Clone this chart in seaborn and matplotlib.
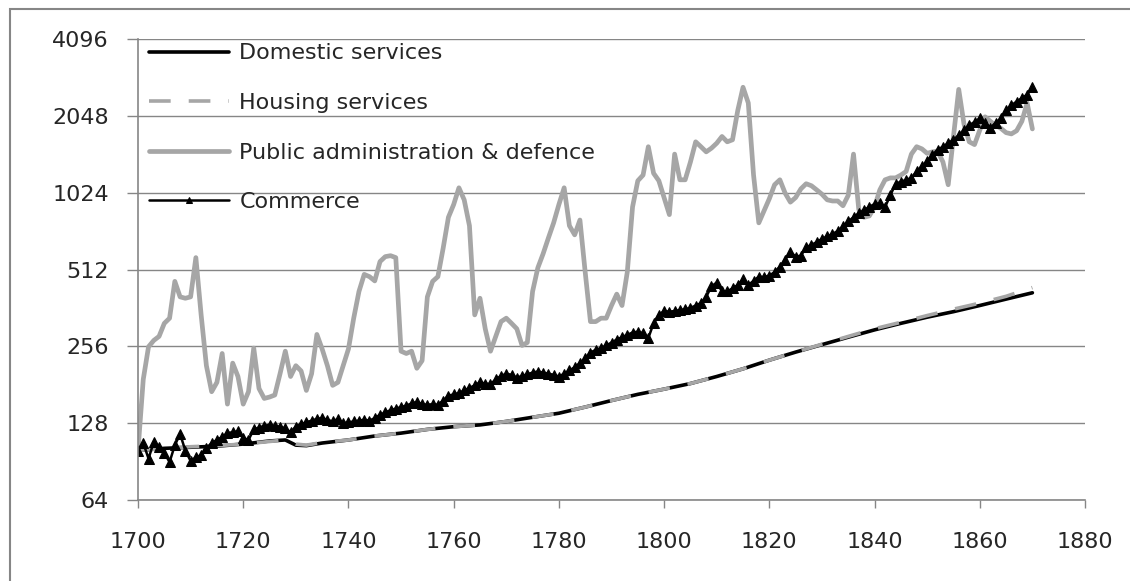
import numpy as np
import pandas as pd
import matplotlib
matplotlib.use('Agg')
import matplotlib.pyplot as plt
import seaborn as sns
from matplotlib.patches import Rectangle

# annual series 1700-1870
years = np.arange(1700, 1871)

# smooth series read at coarser steps
smooth_years = [1700, 1705, 1710, 1715, 1720, 1725, 1728, 1730, 1732, 1735,
                1740, 1745, 1750, 1755, 1760, 1765, 1770, 1775, 1780, 1785,
                1790, 1795, 1800, 1805, 1810, 1815, 1820, 1825, 1830, 1835,
                1840, 1845, 1850, 1855, 1860, 1865, 1870]
domestic = [100, 102, 103, 104, 106, 109, 110, 105, 104.5, 107,
            110, 114, 117, 121, 124, 126, 130, 135, 140, 148,
            157, 166, 174, 183, 195, 209, 226, 243, 260, 278,
            297, 315, 333, 350, 370, 392, 415]
housing = [100, 102, 103.5, 104.5, 106, 108.5, 110, 106, 105, 107.5,
           110, 114, 117, 121, 124, 126, 130, 135, 140, 148,
           157, 166, 174, 183, 195, 209, 226, 243, 261, 280,
           300, 318, 338, 358, 378, 402, 435]

pub_admin = [100, 190, 255, 270, 280, 315, 330, 460, 400, 395,
             400, 570, 340, 215, 170, 185, 240, 152, 220, 195,
             152, 170, 252, 175, 160, 162, 165, 200, 245, 195,
             215, 205, 172, 200, 285, 250, 215, 180, 185, 215,
             250, 330, 420, 490, 480, 462, 550, 575, 580, 570,
             245, 240, 245, 210, 225, 400, 460, 480, 620, 820,
             920, 1070, 960, 760, 340, 395, 300, 245, 280, 320,
             330, 315, 300, 258, 265, 420, 520, 590, 680, 780,
             920, 1070, 760, 700, 800, 500, 320, 320, 330, 330,
             370, 410, 370, 500, 900, 1140, 1200, 1550, 1220, 1140,
             980, 840, 1450, 1150, 1150, 1350, 1620, 1550, 1480, 1530,
             1600, 1700, 1620, 1650, 2150, 2650, 2300, 1200, 780, 870,
             970, 1100, 1150, 1020, 940, 980, 1060, 1110, 1090, 1050,
             1010, 960, 950, 950, 910, 1000, 1450, 880, 820, 830,
             900, 1050, 1150, 1170, 1170, 1200, 1240, 1450, 1550, 1520,
             1460, 1480, 1490, 1350, 1100, 1700, 2600, 1900, 1620, 1580,
             1800, 2030, 1950, 1880, 1830, 1760, 1740, 1790, 1950, 2300,
             1820]

commerce = [100, 107, 93, 108, 103, 98, 90, 105, 116, 100,
            91, 94, 96, 102, 107, 110, 113, 117, 118, 119,
            112, 110, 121, 123, 125, 126, 125, 124, 122, 118,
            124, 127, 129, 131, 133, 134, 132, 130, 133, 128,
            129, 130, 131, 132, 131, 134, 138, 141, 144, 146,
            148, 150, 153, 155, 152, 151, 152, 151, 157, 164,
            166, 168, 172, 176, 180, 185, 183, 182, 190, 196,
            200, 198, 193, 196, 199, 202, 204, 202, 200, 198,
            195, 200, 206, 212, 220, 230, 242, 248, 252, 258,
            265, 272, 278, 284, 290, 292, 288, 276, 315, 340,
            352, 350, 352, 355, 358, 362, 370, 378, 400, 440,
            455, 420, 420, 432, 445, 468, 445, 462, 480, 478,
            485, 500, 525, 560, 600, 575, 580, 625, 640, 655,
            675, 690, 705, 725, 755, 790, 820, 850, 875, 900,
            925, 930, 900, 1000, 1110, 1130, 1150, 1170, 1240, 1300,
            1360, 1440, 1510, 1550, 1600, 1650, 1720, 1800, 1880, 1940,
            2000, 1920, 1840, 1920, 2000, 2150, 2250, 2330, 2400, 2480,
            2650]

y_ticks = [64, 128, 256, 512, 1024, 2048, 4096]
x_ticks = list(range(1700, 1881, 20))

GRAY = '#a6a6a6'
AXIS = '#868686'
FS = 16

sns.set_style('white')
plt.rcParams['font.family'] = ['DejaVu Sans']

fig = plt.figure(figsize=(11.3, 5.81), dpi=100)
ax = fig.add_axes([138/1130, 1-500/581, (1085-138)/1130, (500-39)/581])

sns.lineplot(x=smooth_years, y=domestic, ax=ax, color='black', lw=2.6,
             label='Domestic services', errorbar=None)
sns.lineplot(x=smooth_years, y=housing, ax=ax, color=GRAY, lw=2.6,
             label='Housing services', errorbar=None)
sns.lineplot(x=years, y=pub_admin, ax=ax, color=GRAY, lw=3.4,
             label='Public administration & defence', errorbar=None)
sns.lineplot(x=years, y=commerce, ax=ax, color='black', lw=1.8,
             marker='^', markersize=6.5, markeredgecolor='black',
             label='Commerce', errorbar=None)
ax.lines[1].set_dashes((6, 5))

ax.set_yscale('log', base=2)
ax.set_ylim(64, 4096)
ax.set_xlim(1700, 1880)
ax.set_yticks(y_ticks)
ax.set_yticklabels([str(v) for v in y_ticks])
ax.minorticks_off()
ax.set_xticks(x_ticks)
ax.set_xticklabels([str(v) for v in x_ticks])
ax.set_xlabel('')
ax.set_ylabel('')

ax.grid(axis='y', color=AXIS, lw=1)
ax.grid(axis='x', visible=False)
for s in ['top', 'right']:
    ax.spines[s].set_visible(False)
for s in ['left', 'bottom']:
    ax.spines[s].set_color(AXIS)
    ax.spines[s].set_linewidth(1.2)
ax.tick_params(axis='y', length=8, width=1, color=AXIS, pad=13, labelsize=FS, left=True)
ax.tick_params(axis='x', length=6, width=1, color=AXIS, pad=17, labelsize=FS, bottom=True)

ax.legend(loc='upper left', bbox_to_anchor=(7/947, 1.0), frameon=False, fontsize=FS,
          handlelength=3.6, handletextpad=0.45, labelspacing=1.33,
          borderaxespad=0, borderpad=0.2, markerscale=0.7)

# outer chart border
fig.patches.append(Rectangle((10/1130, -0.1), 1.2, 1 - 9/581 + 0.1,
                             transform=fig.transFigure, fill=False,
                             ec=AXIS, lw=1.5))

fig.savefig('out.png', dpi=100)
